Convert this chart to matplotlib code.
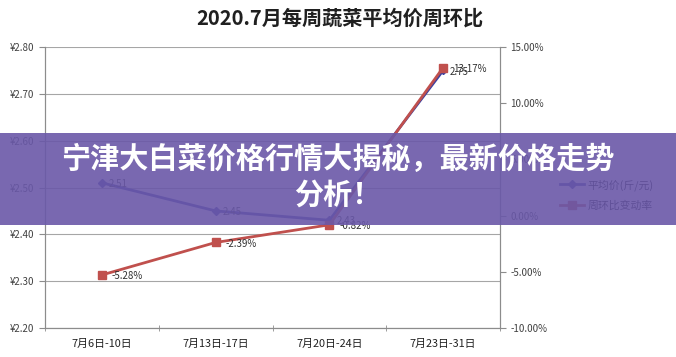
import matplotlib
matplotlib.use("Agg")
import matplotlib.pyplot as plt
from matplotlib.patches import Rectangle
import numpy as np

plt.rcParams['font.family'] = ['Noto Sans CJK SC', 'DejaVu Sans']

categories = ["7月6日-10日", "7月13日-17日", "7月20日-24日", "7月23日-31日"]
avg_price = [2.51, 2.45, 2.43, 2.75]
wow_change = [-5.28, -2.39, -0.82, 13.17]
left_ticks = [2.20, 2.30, 2.40, 2.50, 2.60, 2.70, 2.80]
right_ticks = [-10, -5, 0, 5, 10, 15]
series_names = ["平均价(斤/元)", "周环比变动率"]
title = "2020.7月每周蔬菜平均价周环比"
banner = "宁津大白菜价格行情大揭秘，最新价格走势\n分析！"

W, H = 676, 357
fig = plt.figure(figsize=(W / 100, H / 100), dpi=100)
fig.patch.set_facecolor("white")
ax = fig.add_axes([45 / W, 1 - 328 / H, (500 - 45) / W, (328 - 47) / H])
ax2 = ax.twinx()

x = np.arange(len(categories))
blue = "#3c40a0"
red = "#c0504d"

ax.set_xlim(-0.5, len(categories) - 0.5)
ax.set_ylim(2.20, 2.80)
ax.set_yticks(left_ticks)
ax.set_yticklabels(["¥%.2f" % v for v in left_ticks])
ax.grid(axis="y", color="#a6a6a6", lw=0.8)
ax.set_axisbelow(True)
ax2.set_ylim(-10, 15)
ax2.set_yticks(right_ticks)
ax2.set_yticklabels(["%.2f%%" % v for v in right_ticks])

for a in (ax, ax2):
    a.spines["top"].set_visible(False)
    a.spines["left"].set_color("#8c8c8c")
    a.spines["right"].set_color("#8c8c8c")
    a.spines["bottom"].set_color("#8c8c8c")
    a.tick_params(axis="y", labelsize=7, colors="#404040", length=4, color="#8c8c8c")

ax.set_xticks(x)
ax.set_xticklabels(categories, fontsize=7.8, color="#202020")
ax.tick_params(axis="x", length=0, pad=8)
ax.set_xticks(np.arange(-0.5, len(categories), 1.0), minor=True)
ax.tick_params(axis="x", which="minor", length=4, color="#8c8c8c", direction="inout")

l1, = ax.plot(x, avg_price, color=blue, lw=2, marker="D", ms=4, label=series_names[0], zorder=5)
l2, = ax2.plot(x, wow_change, color=red, lw=2, marker="s", ms=6, label=series_names[1], zorder=5)

for xi, v in zip(x, avg_price):
    ax.annotate("%.2f" % v, (xi, v), xytext=(5, -3), textcoords="offset points",
                fontsize=7, color="#303030", zorder=6)
for xi, v in zip(x, wow_change):
    ax2.annotate("%.2f%%" % v, (xi, v), xytext=(7, -3), textcoords="offset points",
                 fontsize=7, color="#303030", zorder=6)

fig.text(340 / W, 1 - 18 / H, title, ha="center", va="center", fontsize=14.5,
         fontweight="bold", color="#202020")

fig.legend(handles=[l1, l2], loc="center left", bbox_to_anchor=(556 / W, 1 - 195 / H),
           frameon=False, fontsize=7.8, handlelength=2.2, labelspacing=0.9,
           borderaxespad=0, handletextpad=0.3)

fig.patches.append(Rectangle((0, 1 - 225 / H), 1, (225 - 133) / H, transform=fig.transFigure,
                             facecolor="#6a58a8", alpha=0.9, zorder=10, edgecolor="none"))
fig.text(338 / W, 1 - 177 / H, banner, ha="center", va="center", fontsize=21,
         fontweight="bold", color="white", zorder=11, linespacing=1.25)

fig.savefig("out.png", dpi=100)
